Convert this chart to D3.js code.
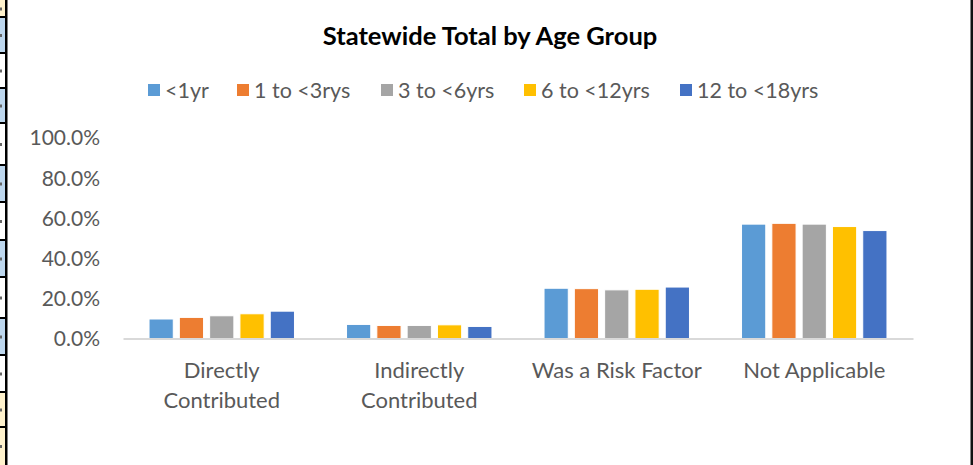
<!DOCTYPE html>
<html>
<head>
<meta charset="utf-8">
<script src="https://cdn.jsdelivr.net/npm/d3@7/dist/d3.min.js"></script>
<style>
  html, body { margin: 0; padding: 0; background: #fff; }
  svg { display: block; }
  text { font-family: Lato, "Open Sans", sans-serif; }
</style>
</head>
<body>
<svg id="chart" width="973" height="465"></svg>
<script>
// ---- data ----
const categories = ["Directly Contributed", "Indirectly Contributed", "Was a Risk Factor", "Not Applicable"];
const seriesNames = ["<1yr", "1 to <3rys", "3 to <6yrs", "6 to <12yrs", "12 to <18yrs"];
const lt1yr   = [9.7, 7.0, 25.0, 56.9];
const y1to3   = [10.5, 6.5, 24.8, 57.3];
const y3to6   = [11.3, 6.5, 24.2, 56.9];
const y6to12  = [12.3, 6.8, 24.5, 55.7];
const y12to18 = [13.6, 6.0, 25.6, 53.7];
const yTicks  = [0, 20, 40, 60, 80, 100];
const colors  = ["#5B9BD5", "#ED7D31", "#A5A5A5", "#FFC000", "#4472C4"];
const catLines = [["Directly", "Contributed"], ["Indirectly", "Contributed"], ["Was a Risk Factor"], ["Not Applicable"]];
const stripCells = ["#fff2cc", "#bdd7ee", "#fff", "#bdd7ee", "#fff", "#bdd7ee", "#fff", "#bdd7ee", "#fff", "#bdd7ee", "#fff", "#fff2cc", "#fff2cc"];

const seriesValues = [lt1yr, y1to3, y3to6, y6to12, y12to18];

const svg = d3.select("#chart");
const W = 973, H = 465;

svg.append("rect").attr("width", W).attr("height", H).attr("fill", "#fff");

// left spreadsheet strip (background decoration)
const stripBounds = [0, 17, 53, 88, 123, 165, 202, 240, 277, 318, 355, 392, 427, 465];
const strip = svg.append("g");
stripCells.forEach((c, i) => {
  strip.append("rect").attr("x", 0).attr("y", stripBounds[i]).attr("width", 6)
    .attr("height", stripBounds[i + 1] - stripBounds[i]).attr("fill", c);
  if (i > 0) strip.append("rect").attr("x", 0).attr("y", stripBounds[i] - 1).attr("width", 6).attr("height", 2).attr("fill", "#000");
  strip.append("rect").attr("x", 0).attr("y", (stripBounds[i] + stripBounds[i + 1]) / 2 - 1)
    .attr("width", 2).attr("height", 3).attr("fill", "#666");
});
strip.append("rect").attr("x", 5).attr("y", 0).attr("width", 2.5).attr("height", H).attr("fill", "#000");
// right border
svg.append("rect").attr("x", 970.5).attr("y", 0).attr("width", 2.5).attr("height", H).attr("fill", "#111");

// scales
const x0 = d3.scaleBand().domain(categories).range([123, 913]);
const groupW = 151.5;
const x1 = d3.scaleBand().domain(seriesNames)
  .range([(x0.bandwidth() - groupW) / 2, (x0.bandwidth() + groupW) / 2])
  .paddingInner(0.2).paddingOuter(0.1);
const y = d3.scaleLinear().domain([0, 100]).range([338.5, 137.5]);

// title
svg.append("text").attr("x", 490).attr("y", 45).attr("text-anchor", "middle")
  .attr("font-size", 25.5).attr("font-weight", "bold").attr("fill", "#000")
  .text("Statewide Total by Age Group");

// legend
const legendX = [148, 237, 381, 524, 680];
const lg = svg.append("g");
seriesNames.forEach((s, i) => {
  lg.append("rect").attr("x", legendX[i]).attr("y", 84).attr("width", 12).attr("height", 12).attr("fill", colors[i]);
  lg.append("text").attr("x", legendX[i] + 17).attr("y", 98).attr("font-size", 21.5).attr("fill", "#595959").text(s);
});

// y axis (labels only)
const yAxis = d3.axisLeft(y).tickValues(yTicks).tickSize(0).tickPadding(0)
  .tickFormat(d => d.toFixed(1) + "%");
const yg = svg.append("g").attr("transform", "translate(100,0)").call(yAxis);
yg.select(".domain").remove();
yg.selectAll("text").attr("font-size", 21).attr("fill", "#595959").attr("font-family", "Lato, sans-serif").attr("dy", "0.35em");

// bars
const groups = svg.append("g").selectAll("g").data(categories).join("g")
  .attr("transform", d => `translate(${x0(d)},0)`);
groups.selectAll("rect")
  .data((c, ci) => seriesNames.map((s, si) => ({ s, v: seriesValues[si][ci], si })))
  .join("rect")
  .attr("x", d => x1(d.s))
  .attr("width", x1.bandwidth())
  .attr("y", d => y(d.v))
  .attr("height", d => y(0) - y(d.v))
  .attr("fill", d => colors[d.si])
  .attr("stroke", "#fff").attr("stroke-width", 1);

// x axis
const xAxis = d3.axisBottom(x0).tickSize(0).tickFormat("");
const xg = svg.append("g").attr("transform", `translate(0,${y(0)})`).call(xAxis);
xg.select(".domain").attr("stroke", "#d9d9d9").attr("stroke-width", 2);

// category labels
categories.forEach((c, i) => {
  const t = svg.append("text").attr("x", x0(c) + x0.bandwidth() / 2).attr("y", 378)
    .attr("text-anchor", "middle").attr("font-size", 22).attr("fill", "#595959");
  catLines[i].forEach((ln, j) => {
    t.append("tspan").attr("x", x0(c) + x0.bandwidth() / 2).attr("dy", j === 0 ? 0 : 30).text(ln);
  });
});
</script>
</body>
</html>
